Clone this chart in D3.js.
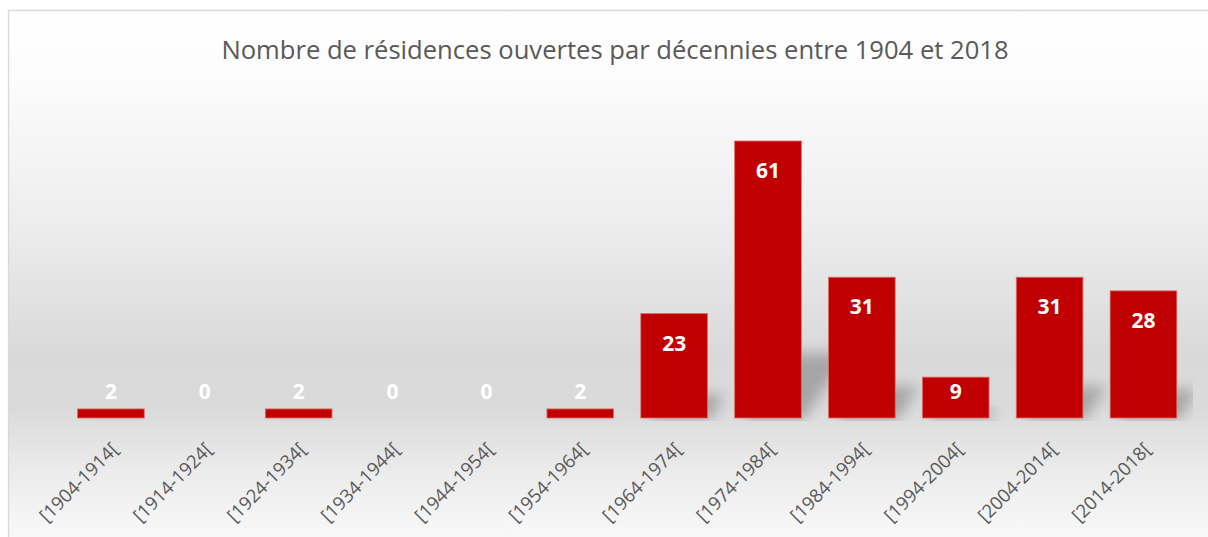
<!DOCTYPE html>
<html>
<head>
<meta charset="utf-8">
<script src="https://cdn.jsdelivr.net/npm/d3@7/dist/d3.min.js"></script>
<style>
  html, body { margin: 0; padding: 0; background: #ffffff; }
  svg { display: block; }
</style>
</head>
<body>
<svg id="chart" width="1208" height="537"></svg>
<script>
// Residences opened per decade, 1904–2018
const titleText = "Nombre de résidences ouvertes par décennies entre 1904 et 2018";
const decades = ["[1904-1914[", "[1914-1924[", "[1924-1934[", "[1934-1944[", "[1944-1954[", "[1954-1964[",
                 "[1964-1974[", "[1974-1984[", "[1984-1994[", "[1994-2004[", "[2004-2014[", "[2014-2018["];
const openings = [2, 0, 2, 0, 0, 2, 23, 61, 31, 9, 31, 28];

const W = 1208, H = 537;
const plot = { left: 64, right: 1190.4, bottom: 418, clipRight: 1193, clipBottom: 421 };

const svg = d3.select("#chart");
const defs = svg.append("defs");

// Chart-area fill: white at the top, grey band behind the bar bases, fading out again below
const bg = defs.append("linearGradient").attr("id", "areaFill")
  .attr("x1", 0).attr("y1", 0).attr("x2", 0).attr("y2", 1);
[[0, "#ffffff"], [0.12, "#fcfcfc"], [0.38, "#eeeeee"], [0.63, "#d9d9d9"], [0.73, "#dadada"], [0.85, "#ececec"], [1, "#fcfcfc"]]
  .forEach(([o, c]) => bg.append("stop").attr("offset", o).attr("stop-color", c));

defs.append("filter").attr("id", "soft").attr("x", "-50%").attr("y", "-50%").attr("width", "200%").attr("height", "200%")
  .append("feGaussianBlur").attr("stdDeviation", 7);

defs.append("clipPath").attr("id", "plotClip")
  .append("rect").attr("x", 0).attr("y", 0).attr("width", plot.clipRight).attr("height", plot.clipBottom);

svg.append("rect")
  .attr("x", 8.5).attr("y", 10.5).attr("width", 1260).attr("height", 545)
  .attr("fill", "url(#areaFill)").attr("stroke", "#d9d9d9").attr("stroke-width", 1.5);

const x = d3.scaleBand().domain(decades).range([plot.left, plot.right])
  .paddingInner(0.29).paddingOuter(0.145);
const y = d3.scaleLinear().domain([0, 70]).range([plot.bottom, plot.bottom - 70 * (277 / 61)]);

const rows = decades.map((d, i) => ({ label: d, value: openings[i] }));

// Perspective shadows cast behind each bar
const shadowG = svg.append("g").attr("clip-path", "url(#plotClip)");
shadowG.selectAll("path").data(rows.filter(r => r.value > 0)).join("path")
  .attr("d", r => {
    const x0 = x(r.label), x1 = x0 + x.bandwidth();
    const h = y(0) - y(r.value);
    const sh = h * 0.24;
    const dx = sh * 0.7;
    const b = y(0) + 2;
    return `M${x0 + 8},${b} L${x1 + 2},${b} L${x1 + dx},${b - sh} L${x0 + dx},${b - sh} Z`;
  })
  .attr("fill", "#000").attr("opacity", 0.24).attr("filter", "url(#soft)");

// Bars
svg.append("g").selectAll("rect").data(rows.filter(r => r.value > 0)).join("rect")
  .attr("x", r => x(r.label))
  .attr("y", r => y(r.value))
  .attr("width", x.bandwidth())
  .attr("height", r => y(0) - y(r.value))
  .attr("fill", "#c00000")
  .attr("stroke", "#dc6b6b").attr("stroke-width", 0.8);

// Value labels, inside the bar end, kept above the base for short bars
svg.append("g").selectAll("text").data(rows).join("text")
  .attr("x", r => x(r.label) + x.bandwidth() / 2)
  .attr("y", r => Math.min(y(r.value) + 29, y(0) - 27))
  .attr("text-anchor", "middle").attr("dominant-baseline", "central")
  .attr("font-family", "'Open Sans', sans-serif").attr("font-weight", 700).attr("font-size", 21)
  .attr("fill", "#ffffff")
  .text(r => r.value);

// Category axis with slanted labels
const axis = svg.append("g").attr("transform", `translate(0,${plot.bottom})`)
  .call(d3.axisBottom(x).tickSize(0).tickPadding(0));
axis.select(".domain").remove();
axis.attr("font-size", null).attr("font-family", null);
axis.selectAll(".tick text")
  .style("font-family", "'Open Sans', sans-serif").style("font-size", "18.5px").attr("fill", "#595959")
  .attr("text-anchor", "end")
  .attr("dy", "0.35em")
  .attr("transform", "translate(4,28) rotate(-45)");

// Title
svg.append("text")
  .attr("x", 615).attr("y", 59)
  .attr("text-anchor", "middle")
  .attr("font-family", "'Open Sans', sans-serif").attr("font-size", 25.6).attr("fill", "#595959")
  .text(titleText);
</script>
</body>
</html>
